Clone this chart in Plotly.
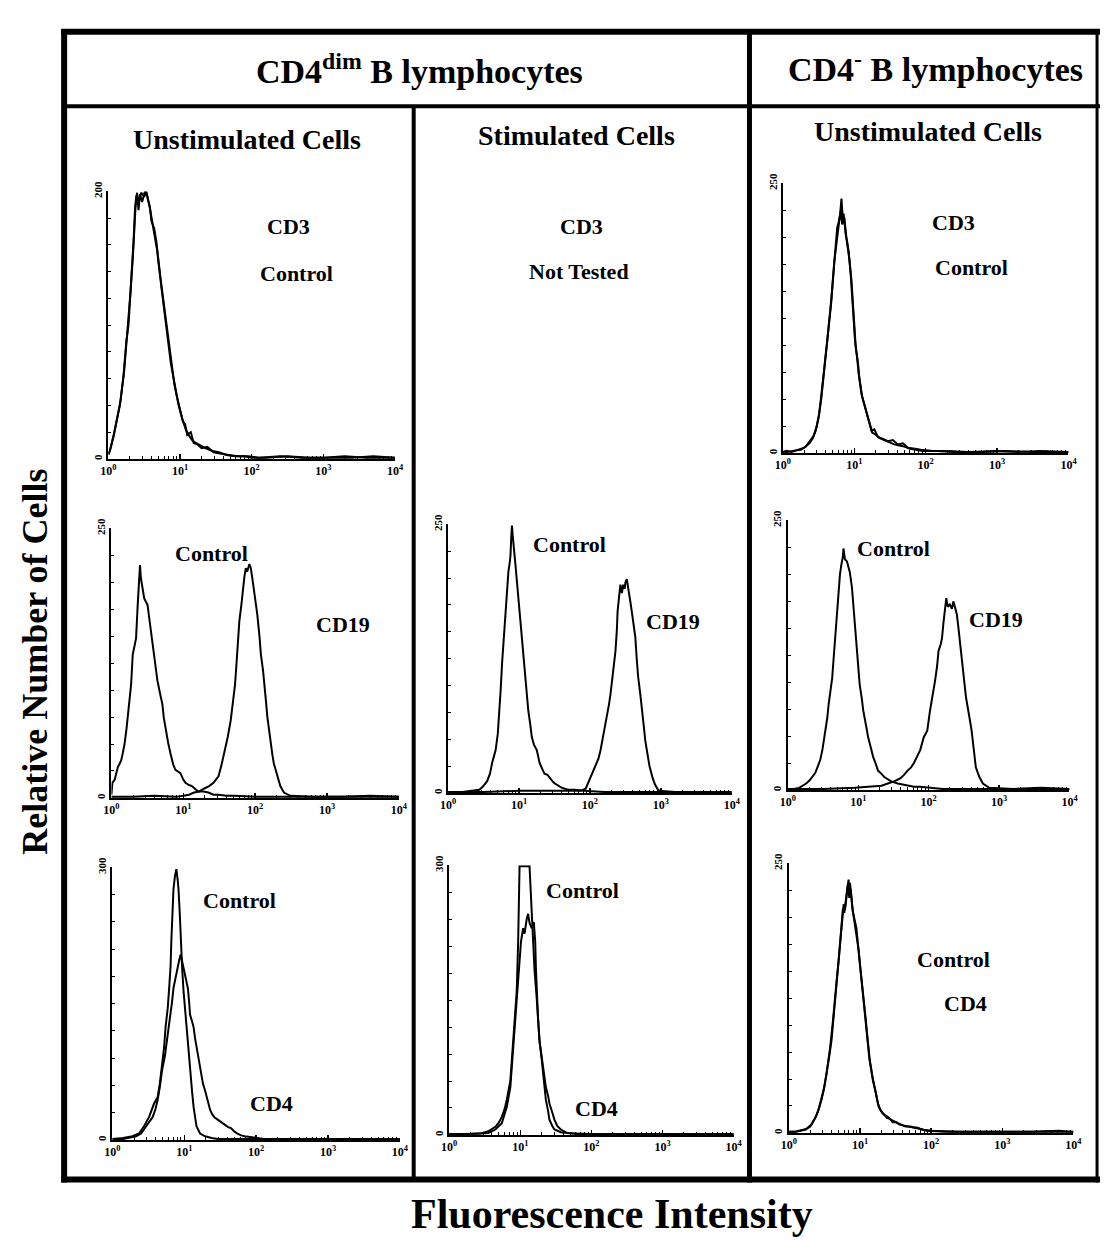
import numpy as np
import plotly.graph_objects as go

# ---------------- data (x = log10 fluorescence, y = cell count) ----------------
decade_labels = ["10<sup>0</sup>", "10<sup>1</sup>", "10<sup>2</sup>", "10<sup>3</sup>", "10<sup>4</sup>"]

# Row 1, CD4dim unstimulated: CD3 vs Control (y max 200)
r1c1_cd3 = [(0.00,4),(0.02,6),(0.07,17),(0.12,30),(0.16,40),(0.21,62),(0.25,88),(0.28,100),(0.30,122),(0.33,145),
            (0.35,162),(0.37,186),(0.39,197),(0.41,190),(0.43,195),(0.46,199),(0.50,196),(0.53,200),(0.55,194),(0.58,188),
            (0.60,178),(0.64,172),(0.67,162),(0.69,150),(0.72,138),(0.74,128),(0.78,110),(0.81,98),(0.85,82),(0.87,72),
            (0.91,60),(0.94,52),(0.98,40),(1.03,30),(1.08,22),(1.13,17),(1.17,14),(1.22,12),(1.28,10),(1.36,8),
            (1.45,6),(1.54,5),(1.65,3),(1.77,2),(1.90,2),(2.00,1),(2.20,1),(2.50,2),(2.80,1),(3.10,1),(3.40,1),(3.70,2),(4.00,1)]
r1c1_control = [(0.00,3),(0.03,8),(0.08,19),(0.13,33),(0.17,44),(0.22,66),(0.26,90),(0.29,108),(0.31,126),(0.34,150),
                (0.36,170),(0.38,190),(0.40,199),(0.42,186),(0.44,198),(0.47,192),(0.51,200),(0.54,197),(0.57,190),(0.59,184),
                (0.62,176),(0.65,166),(0.68,156),(0.70,146),(0.73,134),(0.76,122),(0.79,106),(0.82,94),(0.86,78),(0.89,68),
                (0.92,56),(0.95,48),(1.00,36),(1.04,28),(1.07,26),(1.10,18),(1.15,20),(1.19,12),(1.24,11),(1.30,8),
                (1.38,9),(1.47,5),(1.56,4),(1.68,3),(1.80,2),(1.95,2),(2.10,1),(2.40,2),(2.70,1),(3.00,1),(3.30,2),(3.60,1),(4.00,1)]

# Row 1, CD4- unstimulated: CD3 vs Control (y max 250)
r1c3_cd3 = [(0.00,1),(0.05,2),(0.12,1),(0.23,3),(0.30,5),(0.37,9),(0.42,14),(0.46,21),(0.50,33),(0.53,49),(0.575,74),
            (0.62,104),(0.667,135),(0.71,172),(0.74,192),(0.76,209),(0.78,214),(0.80,221),(0.82,236),(0.84,215),(0.85,222),
            (0.88,202),(0.90,196),(0.92,187),(0.95,165),(0.97,147),(0.99,128),(1.01,104),(1.04,88),(1.06,74),(1.10,55),
            (1.14,46),(1.17,37),(1.21,28),(1.24,21),(1.28,22),(1.33,15),(1.40,13),(1.47,11),(1.54,12),(1.61,8),(1.68,9),
            (1.75,5),(1.85,4),(1.93,3),(2.10,2),(2.30,2),(2.60,1),(3.00,2),(3.30,1),(3.60,2),(4.00,1)]
r1c3_control = [(0.00,1),(0.06,1),(0.14,2),(0.25,3),(0.32,6),(0.38,11),(0.43,16),(0.47,24),(0.51,37),(0.54,52),(0.58,78),
                (0.63,108),(0.68,142),(0.72,178),(0.75,198),(0.77,205),(0.79,216),(0.81,224),(0.83,212),(0.86,218),(0.89,199),
                (0.91,190),(0.93,180),(0.96,160),(0.98,140),(1.00,118),(1.02,98),(1.05,84),(1.07,70),(1.11,52),(1.15,42),
                (1.18,34),(1.22,26),(1.25,19),(1.30,17),(1.35,14),(1.42,12),(1.49,10),(1.56,8),(1.63,7),(1.70,6),(1.78,4),
                (1.88,3),(1.96,2),(2.15,2),(2.40,1),(2.80,1),(3.10,2),(3.50,1),(3.80,1),(4.00,1)]

# Row 2, CD4dim unstimulated: Control vs CD19 (y max 250)
r2c1_control = [(0.00,3),(0.014,14),(0.046,17),(0.07,24),(0.091,29),(0.11,31),(0.137,35),(0.16,42),(0.183,50),(0.21,64),
                (0.229,75),(0.25,90),(0.274,105),(0.297,133),(0.32,140),(0.343,148),(0.366,179),(0.389,213),(0.398,216),
                (0.41,204),(0.425,198),(0.44,190),(0.457,185),(0.48,182),(0.503,179),(0.53,165),(0.549,155),(0.57,142),
                (0.594,130),(0.62,118),(0.64,109),(0.68,96),(0.709,87),(0.73,74),(0.754,63),(0.79,51),(0.823,41),(0.86,31),
                (0.891,26),(0.93,24),(0.96,23),(1.00,17),(1.03,14),(1.08,12),(1.12,11),(1.17,8),(1.21,6),(1.28,6),(1.35,5),
                (1.42,3),(1.49,3),(1.60,2),(1.71,2),(2.00,1),(2.50,1),(3.00,1),(3.50,1),(4.00,1)]
r2c1_cd19 = [(0.00,1),(0.30,1),(0.60,2),(0.90,1),(1.00,2),(1.08,3),(1.15,5),(1.22,6),(1.30,9),(1.36,11),(1.42,14),(1.49,20),
             (1.53,30),(1.58,44),(1.62,57),(1.66,72),(1.69,87),(1.72,105),(1.74,124),(1.76,145),(1.78,164),(1.81,180),(1.83,194),
             (1.85,205),(1.87,213),(1.89,210),(1.92,217),(1.94,213),(1.96,204),(1.99,191),(2.01,180),(2.03,170),(2.06,150),
             (2.08,133),(2.11,118),(2.13,106),(2.15,90),(2.17,75),(2.20,62),(2.22,50),(2.24,40),(2.26,32),(2.29,25),(2.31,20),
             (2.35,11),(2.40,5),(2.49,2),(2.80,1),(3.20,1),(3.60,2),(4.00,1)]

# Row 2, CD4dim stimulated: Control vs CD19 (y max 250)
r2c2_control = [(0.00,1),(0.20,1),(0.44,3),(0.49,6),(0.55,11),(0.59,18),(0.62,28),(0.67,40),(0.70,55),(0.72,71),(0.74,95),
                (0.76,120),(0.79,150),(0.81,176),(0.83,192),(0.85,206),(0.87,215),(0.88,222),(0.89,238),(0.90,249),(0.91,240),
                (0.92,231),(0.93,222),(0.95,212),(0.97,197),(0.99,182),(1.02,166),(1.04,151),(1.06,132),(1.09,114),(1.11,95),
                (1.13,77),(1.16,63),(1.18,52),(1.21,45),(1.25,40),(1.27,34),(1.29,28),(1.33,22),(1.36,18),(1.40,17),(1.43,14),
                (1.47,11),(1.50,9),(1.55,7),(1.60,5),(1.69,3),(1.78,3),(1.92,2),(2.20,1),(2.60,1),(3.00,1),(3.50,1),(4.00,1)]
r2c2_cd19 = [(0.00,1),(0.50,1),(1.00,2),(1.50,2),(1.87,2),(1.94,4),(2.01,15),(2.05,20),(2.08,25),(2.12,32),(2.15,40),(2.18,50),
             (2.20,58),(2.24,72),(2.27,83),(2.29,92),(2.31,102),(2.34,118),(2.36,132),(2.38,152),(2.39,169),(2.41,182),(2.43,194),
             (2.45,186),(2.47,194),(2.49,190),(2.50,196),(2.52,199),(2.54,192),(2.55,188),(2.57,178),(2.59,169),(2.62,157),
             (2.64,145),(2.66,125),(2.68,108),(2.71,92),(2.73,77),(2.76,62),(2.78,49),(2.81,36),(2.84,25),(2.88,15),(2.91,9),
             (2.95,4),(2.98,2),(3.20,1),(3.60,1),(4.00,1)]

# Row 2, CD4- unstimulated: Control vs CD19 (y max 250)
r2c3_control = [(0.00,1),(0.08,1),(0.16,2),(0.26,6),(0.31,9),(0.35,12),(0.39,16),(0.42,21),(0.46,28),(0.49,37),(0.51,45),
                (0.53,55),(0.56,67),(0.58,80),(0.61,92),(0.63,104),(0.65,122),(0.67,141),(0.70,165),(0.72,190),(0.74,200),
                (0.76,209),(0.78,216),(0.79,224),(0.81,214),(0.84,212),(0.86,206),(0.88,202),(0.91,188),(0.93,172),(0.96,152),
                (0.98,135),(1.00,116),(1.02,98),(1.05,85),(1.07,74),(1.11,60),(1.14,49),(1.18,39),(1.21,31),(1.25,24),(1.28,18),
                (1.33,15),(1.37,12),(1.42,10),(1.47,8),(1.56,6),(1.65,5),(1.72,4),(1.79,3),(1.88,3),(2.00,2),(2.20,1),(2.60,1),
                (3.00,1),(3.50,1),(4.00,1)]
r2c3_cd19 = [(0.00,1),(0.50,1),(0.95,2),(1.15,3),(1.33,4),(1.42,6),(1.51,8),(1.60,11),(1.65,14),(1.70,18),(1.75,21),(1.79,25),
             (1.84,31),(1.88,37),(1.93,49),(1.98,55),(2.02,74),(2.06,88),(2.09,101),(2.12,115),(2.14,129),(2.17,135),(2.19,141),
             (2.21,155),(2.23,166),(2.25,178),(2.27,170),(2.30,172),(2.33,168),(2.35,175),(2.38,168),(2.40,163),(2.42,152),
             (2.44,141),(2.47,125),(2.49,110),(2.51,98),(2.53,86),(2.56,76),(2.58,67),(2.61,55),(2.63,43),(2.65,32),(2.67,21),
             (2.72,12),(2.77,6),(2.86,2),(3.20,1),(3.60,2),(4.00,1)]

# Row 3, CD4dim unstimulated: Control vs CD4 (y max 300)
r3c1_control = [(0.00,1),(0.15,2),(0.28,4),(0.37,7),(0.44,15),(0.51,25),(0.58,40),(0.63,47),(0.66,62),(0.69,80),(0.72,102),
                (0.74,124),(0.77,145),(0.79,167),(0.81,192),(0.82,218),(0.84,250),(0.85,276),(0.87,290),(0.89,298),(0.91,285),
                (0.92,276),(0.94,245),(0.95,218),(0.97,190),(0.99,164),(1.02,136),(1.04,109),(1.06,90),(1.08,73),(1.11,52),
                (1.13,36),(1.15,24),(1.17,15),(1.22,7),(1.29,4),(1.38,2),(1.47,1),(2.00,1),(2.50,1),(3.00,1),(3.50,1),(4.00,1)]
r3c1_cd4 = [(0.00,1),(0.15,1),(0.33,4),(0.40,7),(0.47,15),(0.56,25),(0.60,34),(0.63,44),(0.66,58),(0.69,76),(0.73,92),
            (0.76,109),(0.79,125),(0.81,138),(0.83,152),(0.85,167),(0.88,180),(0.90,189),(0.93,198),(0.95,204),(0.97,196),
            (0.99,190),(1.01,182),(1.03,175),(1.05,167),(1.07,150),(1.08,138),(1.11,130),(1.13,124),(1.15,112),(1.17,102),
            (1.20,90),(1.22,80),(1.24,70),(1.26,62),(1.29,54),(1.31,47),(1.34,40),(1.36,33),(1.39,28),(1.42,25),(1.47,22),
            (1.52,19),(1.56,16),(1.61,14),(1.65,13),(1.70,9),(1.74,7),(1.79,5),(1.84,4),(1.93,3),(2.11,1),(2.50,1),(3.00,1),
            (3.50,1),(4.00,1)]

# Row 3, CD4dim stimulated: Control vs CD4 (y max 300)
r3c2_control = [(0.00,1),(0.25,1),(0.46,2),(0.55,4),(0.65,9),(0.70,14),(0.74,20),(0.78,29),(0.81,39),(0.86,60),(0.88,82),
                (0.90,105),(0.93,132),(0.95,160),(0.97,215),(0.99,299),(1.13,299),(1.16,251),(1.18,215),(1.20,184),(1.23,153),
                (1.25,128),(1.27,105),(1.30,85),(1.32,68),(1.34,52),(1.36,39),(1.39,27),(1.41,17),(1.45,10),(1.48,6),(1.57,3),
                (1.80,1),(2.20,1),(2.60,1),(3.00,1),(3.50,1),(4.00,1)]
r3c2_cd4 = [(0.00,1),(0.30,1),(0.55,2),(0.65,6),(0.74,13),(0.78,22),(0.81,31),(0.86,53),(0.89,85),(0.92,119),(0.95,150),
            (0.97,178),(0.99,200),(1.01,215),(1.04,230),(1.06,224),(1.09,240),(1.11,246),(1.13,236),(1.16,230),(1.19,237),
            (1.21,215),(1.22,185),(1.23,160),(1.25,130),(1.27,105),(1.30,88),(1.32,75),(1.34,62),(1.36,53),(1.39,44),(1.41,35),
            (1.45,25),(1.48,17),(1.52,10),(1.57,6),(1.66,2),(2.00,1),(2.40,1),(2.80,1),(3.20,1),(3.60,1),(4.00,1)]

# Row 3, CD4- unstimulated: Control vs CD4 (y max 250)
r3c3_cd4 = [(0.00,1),(0.08,1),(0.14,2),(0.23,3),(0.30,6),(0.37,14),(0.41,20),(0.44,28),(0.49,40),(0.53,55),(0.56,68),(0.58,79),
            (0.62,104),(0.65,122),(0.67,140),(0.70,160),(0.72,177),(0.74,192),(0.76,208),(0.78,204),(0.80,217),(0.82,226),
            (0.84,235),(0.85,222),(0.86,232),(0.88,217),(0.90,205),(0.92,199),(0.95,190),(0.97,176),(0.99,162),(1.02,146),
            (1.04,131),(1.07,112),(1.09,98),(1.11,84),(1.13,70),(1.16,58),(1.18,49),(1.22,38),(1.25,28),(1.28,22),(1.32,18),
            (1.36,16),(1.39,15),(1.44,12),(1.48,11),(1.53,9),(1.57,8),(1.64,6),(1.71,6),(1.76,5),(1.80,5),(1.88,3),(1.94,2),
            (2.20,1),(2.60,1),(3.00,1),(3.40,1),(3.80,2),(4.00,1)]
r3c3_control = [(0.00,1),(0.10,1),(0.16,2),(0.25,4),(0.32,8),(0.38,15),(0.42,22),(0.46,31),(0.50,43),(0.54,58),(0.57,72),
                (0.60,86),(0.63,108),(0.66,128),(0.68,146),(0.71,168),(0.73,184),(0.75,198),(0.77,212),(0.79,207),(0.81,222),
                (0.83,230),(0.85,218),(0.87,226),(0.89,210),(0.91,201),(0.93,194),(0.96,183),(0.98,170),(1.00,156),(1.03,139),
                (1.05,124),(1.08,106),(1.10,92),(1.12,78),(1.14,66),(1.17,54),(1.20,44),(1.23,33),(1.26,25),(1.30,20),(1.34,17),
                (1.38,14),(1.42,13),(1.46,10),(1.51,10),(1.55,8),(1.60,7),(1.67,6),(1.74,5),(1.82,4),(1.90,3),(2.00,2),(2.40,1),
                (2.80,1),(3.20,1),(3.60,1),(4.00,1)]

y_max_labels = {"r1c1": 200, "r1c3": 250, "r2c1": 250, "r2c2": 250, "r2c3": 250,
                "r3c1": 300, "r3c2": 300, "r3c3": 250}

# ---------------- layout ----------------
W, H = 1109, 1240
FONT = "Liberation Serif"

def px(x):
    return x / W

def py(y):
    return 1 - y / H

# (x0, x1, ytop, ybottom) in pixels
panels = [
    ("r1c1", [r1c1_cd3, r1c1_control], (102, 393, 183, 453)),
    ("r1c3", [r1c3_cd3, r1c3_control], (787, 1077, 175, 447)),
    ("r2c1", [r2c1_control, r2c1_cd19], (105, 397, 523, 795)),
    ("r2c2", [r2c2_control, r2c2_cd19], (447, 735, 519, 790)),
    ("r2c3", [r2c3_control, r2c3_cd19], (792, 1078, 515, 787)),
    ("r3c1", [r3c1_control, r3c1_cd4], (106, 398, 865, 1140)),
    ("r3c2", [r3c2_control, r3c2_cd4], (448, 737, 863, 1135)),
    ("r3c3", [r3c3_cd4, r3c3_control], (793, 1082, 861, 1133)),
]

fig = go.Figure()
layout = {}
minor_x = [d + np.log10(k) for d in range(4) for k in range(2, 10)]

for i, (key, curves, (x0, x1, yt, yb)) in enumerate(panels, start=1):
    xa = "x" if i == 1 else f"x{i}"
    ya = "y" if i == 1 else f"y{i}"
    for c in curves:
        fig.add_trace(go.Scatter(
            x=[p[0] for p in c], y=[p[1] for p in c], xaxis=xa, yaxis=ya,
            mode="lines", line=dict(color="black", width=2),
            showlegend=False, hoverinfo="skip", cliponaxis=False))
    ymax = y_max_labels[key]
    layout["xaxis" if i == 1 else f"xaxis{i}"] = dict(
        domain=[px(x0), px(x1)], anchor=ya, range=[0, 4], showgrid=False, zeroline=False,
        showline=True, linecolor="black", linewidth=2,
        tickmode="array", tickvals=[0, 1, 2, 3, 4], ticktext=decade_labels,
        ticks="inside", ticklen=5, tickwidth=1.5, tickcolor="black",
        tickfont=dict(family=FONT, size=12, color="black", weight="bold"),
        minor=dict(tickmode="array", tickvals=minor_x, ticks="inside", ticklen=3,
                   tickwidth=1, tickcolor="black", showgrid=False),
        fixedrange=True)
    layout["yaxis" if i == 1 else f"yaxis{i}"] = dict(
        domain=[py(yb), py(yt)], anchor=xa, range=[0, ymax], showgrid=False, zeroline=False,
        showline=True, linecolor="black", linewidth=2,
        tickmode="array", tickvals=[0, ymax], ticktext=["0", str(ymax)], tickangle=-90,
        ticks="inside", ticklen=6, tickwidth=1.5, tickcolor="black",
        tickfont=dict(family=FONT, size=11, color="black", weight="bold"),
        minor=dict(tickmode="array", tickvals=[ymax * k / 10 for k in range(1, 10)],
                   ticks="inside", ticklen=3, tickwidth=1, tickcolor="black", showgrid=False),
        fixedrange=True)

# frame lines
shapes = []
def hline(y, x0, x1, w):
    shapes.append(dict(type="line", xref="paper", yref="paper", x0=px(x0), x1=px(x1),
                       y0=py(y), y1=py(y), line=dict(color="black", width=w)))
def vline(x, y0, y1, w):
    shapes.append(dict(type="line", xref="paper", yref="paper", x0=px(x), x1=px(x),
                       y0=py(y0), y1=py(y1), line=dict(color="black", width=w)))

hline(22, 54, 1109, 6)
hline(1180, 54, 1109, 6)
hline(97, 57, 1109, 4)
vline(57, 20, 1183, 6)
vline(753, 20, 1183, 5)
vline(412, 97, 1180, 4)
vline(1106, 20, 1183, 3)

annotations = []
def text(s, x, y, size, angle=0):
    annotations.append(dict(text=s, x=px(x), y=py(y), xref="paper", yref="paper",
                            showarrow=False, xanchor="center", yanchor="middle", textangle=angle,
                            font=dict(family=FONT, size=size, color="black", weight="bold")))

text("CD4<sup>dim</sup> B lymphocytes", 418, 60, 34)
text("CD4<sup>-</sup> B lymphocytes", 942, 58, 34)
text("Unstimulated Cells", 243, 131, 28)
text("Stimulated Cells", 577, 127, 28)
text("Unstimulated Cells", 934, 123, 28)

# panel labels
LS = 22
text("CD3", 285, 218, LS); text("Control", 293, 266, LS)
text("CD3", 582, 218, LS); text("Not Tested", 580, 264, LS)
text("CD3", 960, 214, LS); text("Control", 978, 260, LS)
text("Control", 207, 548, LS); text("CD19", 340, 620, LS)
text("Control", 570, 539, LS); text("CD19", 675, 617, LS)
text("Control", 899, 543, LS); text("CD19", 1003, 615, LS)
text("Control", 235, 898, LS); text("CD4", 268, 1103, LS)
text("Control", 583, 888, LS); text("CD4", 598, 1108, LS)
text("Control", 960, 958, LS); text("CD4", 972, 1002, LS)

# axis titles
text("Relative Number of Cells", 28, 658, 36, angle=-90)
text("Fluorescence Intensity", 613, 1215, 42)

layout.update(dict(width=W, height=H, margin=dict(l=0, r=0, t=0, b=0),
                   paper_bgcolor="white", plot_bgcolor="white",
                   shapes=shapes, annotations=annotations, showlegend=False))
fig.update_layout(**layout)
fig.write_html("out.html",
               config={"displayModeBar": False, "staticPlot": True},
               post_script="document.body.style.margin='0';"
                           "document.body.style.overflow='hidden';"
                           "document.documentElement.style.overflow='hidden';")
